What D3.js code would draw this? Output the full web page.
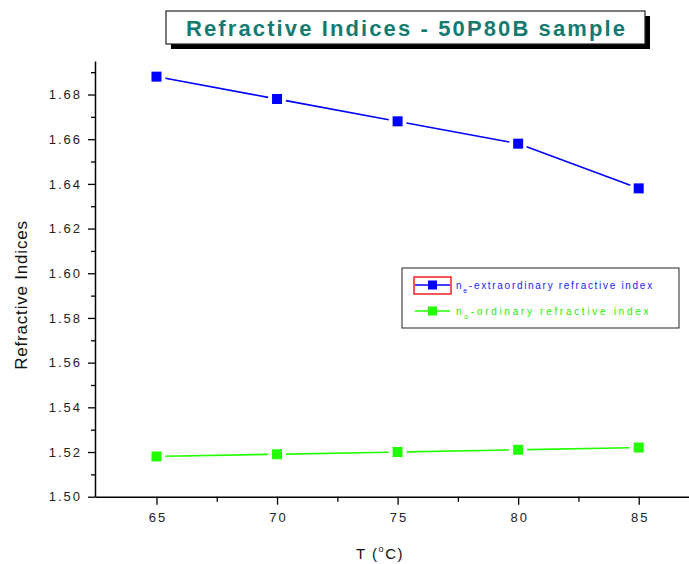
<!DOCTYPE html>
<html>
<head>
<meta charset="utf-8">
<script src="https://cdn.jsdelivr.net/npm/d3@7"></script>
<style>
  body { margin: 0; background: #fff; }
  svg { display: block; font-family: Arial, "Liberation Sans", sans-serif; }
</style>
</head>
<body>
<div id="graph"></div>
<script>
//data
let temps = [65, 70, 75, 80, 85];
let extraordinary = [1.688, 1.678, 1.668, 1.658, 1.638];
let ordinary = [1.518, 1.519, 1.520, 1.521, 1.522];
let xTicks = [65, 70, 75, 80, 85];
let yTicks = [1.50, 1.52, 1.54, 1.56, 1.58, 1.60, 1.62, 1.64, 1.66, 1.68];

let width = 689, height = 564;

let svg = d3.select("#graph")
    .append("svg")
    .attr("width", width)
    .attr("height", height);

//scales
let x = d3.scaleLinear()
    .domain([62.45, 87.5])
    .range([95, 699]);

let y = d3.scaleLinear()
    .domain([1.50, 1.695])
    .range([496.7, 61]);

//y axis
let yMinor = d3.range(1.51, 1.695, 0.02);
svg.append("g")
    .attr("transform", "translate(95,0)")
    .call(d3.axisLeft(y).tickValues(yMinor).tickSize(4).tickFormat(""))
    .call(g => g.select(".domain").remove())
    .selectAll("line").attr("stroke-width", 1.3);

svg.append("g")
    .attr("transform", "translate(95,0)")
    .call(d3.axisLeft(y).tickValues(yTicks).tickSize(7).tickSizeOuter(0).tickPadding(6)
        .tickFormat(d3.format(".2f")))
    .call(g => g.select(".domain").attr("stroke-width", 1.5))
    .call(g => g.selectAll("line").attr("stroke-width", 1.3))
    .call(g => g.selectAll("text").attr("font-size", 13).attr("fill", "#222")
        .attr("letter-spacing", 2)
        .attr("font-family", "Arial, 'Liberation Sans', sans-serif"));

//x axis
let xMinor = [67.5, 72.5, 77.5, 82.5];
svg.append("g")
    .attr("transform", "translate(0,496.7)")
    .call(d3.axisBottom(x).tickValues(xMinor).tickSize(5).tickFormat(""))
    .call(g => g.select(".domain").remove())
    .selectAll("line").attr("stroke-width", 1.3);

svg.append("g")
    .attr("transform", "translate(0,496.7)")
    .call(d3.axisBottom(x).tickValues(xTicks).tickSize(8).tickSizeOuter(0).tickPadding(8))
    .call(g => g.select(".domain").attr("stroke-width", 1.5))
    .call(g => g.selectAll("line").attr("stroke-width", 1.3))
    .call(g => g.selectAll("text").attr("font-size", 13).attr("fill", "#222")
        .attr("letter-spacing", 2).attr("dx", 1)
        .attr("font-family", "Arial, 'Liberation Sans', sans-serif"));

//series
let series = [
    {name: "extraordinary", values: extraordinary, color: "#0000ff"},
    {name: "ordinary", values: ordinary, color: "#22ff00"}
];

let gap = 9;
series.forEach(function(s) {
    let pts = temps.map((t, i) => [x(t), y(s.values[i])]);
    for (let i = 0; i < pts.length - 1; i++) {
        let [x1, y1] = pts[i], [x2, y2] = pts[i + 1];
        let len = Math.hypot(x2 - x1, y2 - y1);
        let ux = (x2 - x1) / len, uy = (y2 - y1) / len;
        svg.append("line")
            .attr("x1", x1 + ux * gap).attr("y1", y1 + uy * gap)
            .attr("x2", x2 - ux * gap).attr("y2", y2 - uy * gap)
            .attr("stroke", s.color)
            .attr("stroke-width", 1.6);
    }
    svg.append("g").selectAll("rect").data(pts)
        .enter()
        .append("rect")
        .attr("x", d => d[0] - 5)
        .attr("y", d => d[1] - 5)
        .attr("width", 10)
        .attr("height", 10)
        .attr("fill", s.color);
});

//legend
let legend = svg.append("g");
legend.append("rect")
    .attr("x", 402).attr("y", 268)
    .attr("width", 277).attr("height", 60)
    .attr("fill", "white").attr("stroke", "#222").attr("stroke-width", 1);

let legendItems = [
    {sub: "e", label: "-extraordinary refractive index", color: "#0000ff", textColor: "#2222ee", y: 285, spacing: 1.7},
    {sub: "o", label: "-ordinary refractive index", color: "#22ff00", textColor: "#22ee00", y: 311, spacing: 2.7}
];

legendItems.forEach(function(d, i) {
    legend.append("line")
        .attr("x1", 415).attr("x2", 450)
        .attr("y1", d.y).attr("y2", d.y)
        .attr("stroke", d.color).attr("stroke-width", 1.6);
    legend.append("rect")
        .attr("x", 428).attr("y", d.y - 4.5)
        .attr("width", 9).attr("height", 9)
        .attr("fill", d.color);
    let t = legend.append("text")
        .attr("x", 456).attr("y", d.y + 4)
        .attr("font-size", 10)
        .attr("letter-spacing", d.spacing)
        .attr("fill", d.textColor);
    t.append("tspan").text("n");
    t.append("tspan").attr("font-size", 7).attr("dy", 4).text(d.sub);
    t.append("tspan").attr("dy", -4).text(d.label);
});

//highlight box round first legend symbol
legend.append("rect")
    .attr("x", 414).attr("y", 277)
    .attr("width", 37).attr("height", 17)
    .attr("fill", "none").attr("stroke", "#ee2222").attr("stroke-width", 1.5);

//title box with shadow
svg.append("rect")
    .attr("x", 171).attr("y", 16)
    .attr("width", 479).attr("height", 33)
    .attr("fill", "black");
svg.append("rect")
    .attr("x", 166).attr("y", 11)
    .attr("width", 479).attr("height", 33)
    .attr("fill", "white").attr("stroke", "#222").attr("stroke-width", 1.2);
svg.append("text")
    .attr("x", 186).attr("y", 35.5)
    .attr("textLength", 439)
    .attr("lengthAdjust", "spacing")
    .attr("font-size", 22)
    .attr("font-weight", "bold")
    .attr("fill", "#157a70")
    .text("Refractive Indices - 50P80B  sample");

//y label
svg.append("text")
    .attr("transform", "translate(27,295) rotate(-90)")
    .attr("text-anchor", "middle")
    .attr("font-size", 17)
    .attr("letter-spacing", 0.8)
    .attr("fill", "#111")
    .text("Refractive Indices");

//x label
let xl = svg.append("text")
    .attr("x", 380).attr("y", 559)
    .attr("text-anchor", "middle")
    .attr("font-size", 15)
    .attr("letter-spacing", 1.5)
    .attr("fill", "#111");
xl.append("tspan").text("T (");
xl.append("tspan").attr("font-size", 9).attr("dy", -7).text("o");
xl.append("tspan").attr("dy", 7).text("C)");
</script>
</body>
</html>
